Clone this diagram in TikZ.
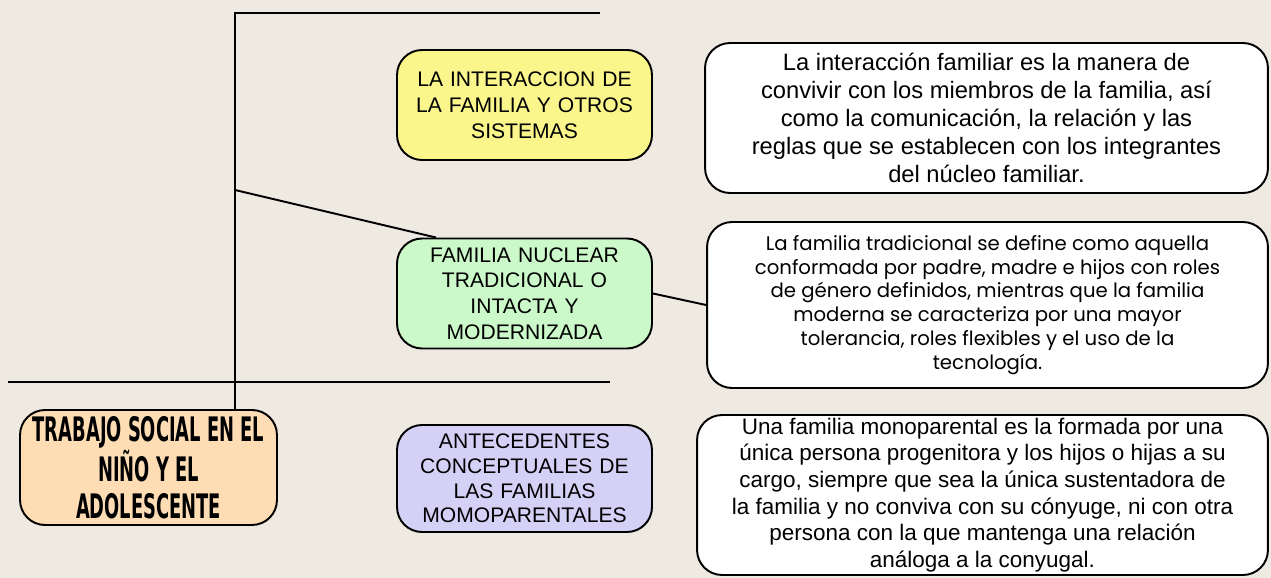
\documentclass[tikz,border=0pt]{standalone}
\usepackage{fontspec}
\setmainfont{Liberation Sans}
\newfontfamily\notefont{Poppins}
\newfontfamily\titlefont{DejaVu Sans Condensed}
\usetikzlibrary{calc}
\definecolor{paper}{HTML}{EEEAE2}
\definecolor{boxyellow}{HTML}{FAF68C}
\definecolor{boxgreen}{HTML}{CCF9C9}
\definecolor{boxpurple}{HTML}{D5D1F6}
\definecolor{boxorange}{HTML}{FEDDB5}
\tikzset{
  box/.style = {draw, line width = 1.1pt, rounded corners = 0.5cm, align = center, inner sep = 0pt},
  topic/.style = {box, minimum width = 5.1cm, minimum height = 2.2cm, text width = 5cm,
    font = \fontsize{12}{14.7}\selectfont},
  note/.style = {box, fill = white, minimum width = 11.2cm},
  link/.style = {line width = 1.1pt}
}

\begin{document}
\begin{tikzpicture}[x = 0.02cm, y = -0.02cm]

\fill[paper] (0,0) rectangle (1271, 578);
\useasboundingbox (0,0) rectangle (1271, 578);

% main title
\node[box, fill = boxorange, minimum width = 5.14cm, minimum height = 2.3cm,
  font = \titlefont\bfseries\fontsize{11.3}{21}\selectfont] (main) at (148.5, 467.5)
  {\scalebox{1}[1.7]{TRABAJO SOCIAL EN EL}\\ \scalebox{1}[1.7]{NIÑO Y EL}\\ \scalebox{1}[1.7]{ADOLESCENTE}};

% topics
\node[topic, fill = boxyellow] (yellow) at (524.5, 105)
  {LA INTERACCION DE\\ LA FAMILIA Y OTROS\\ SISTEMAS};
\node[topic, fill = boxgreen] (green) at (524.5, 293.5)
  {FAMILIA NUCLEAR\\ TRADICIONAL O\\ INTACTA Y\\ MODERNIZADA};
\node[topic, fill = boxpurple, minimum height = 2.14cm,
  font = \fontsize{12}{14}\selectfont] (purple) at (524.5, 478.5)
  {ANTECEDENTES\\ CONCEPTUALES DE\\ LAS FAMILIAS\\ MOMOPARENTALES};

% notes
\node[note, minimum width = 11.26cm, minimum height = 3.0cm,
  font = \fontsize{13.5}{15.9}\selectfont] (note1) at (986.5, 118)
  {La interacción familiar es la manera de\\ convivir con los miembros de la familia, así\\
   como la comunicación, la relación y las\\ reglas que se establecen con los integrantes\\
   del núcleo familiar.};
\node[note, minimum width = 11.22cm, minimum height = 3.32cm,
  font = \notefont\fontsize{11.2}{13.6}\selectfont] (note2) at (987.5, 305)
  {La familia tradicional se define como aquella\\ conformada por padre, madre e hijos con roles\\
   de género definidos, mientras que la familia\\ moderna se caracteriza por una mayor\\
   tolerancia, roles flexibles y el uso de la\\ tecnología.};
\node[note, minimum width = 11.42cm, minimum height = 3.2cm,
  font = \fontsize{12.8}{15.2}\selectfont] (note3) at (982.5, 495)
  {Una familia monoparental es la formada por una\\ única persona progenitora y los hijos o hijas a su\\
   cargo, siempre que sea la única sustentadora de\\ la familia y no conviva con su cónyuge, ni con otra\\
   persona con la que mantenga una relación\\ análoga a la conyugal.};

% connectors
\coordinate (trunk) at (235, 13);
\coordinate (trunkend) at (600, 13);
\coordinate (fork) at (235, 190);
\coordinate (barleft) at (8, 382);
\coordinate (barright) at (610, 382);

\draw[link] (trunkend) -- (trunk) -- (trunk |- main.north);
\draw[link] (fork) -- ($(green.north west) + (40, 0)$);
\draw[link] (barleft) -- (barright);
\draw[link] (green.east) -- (note2.west);

\end{tikzpicture}
\end{document}
